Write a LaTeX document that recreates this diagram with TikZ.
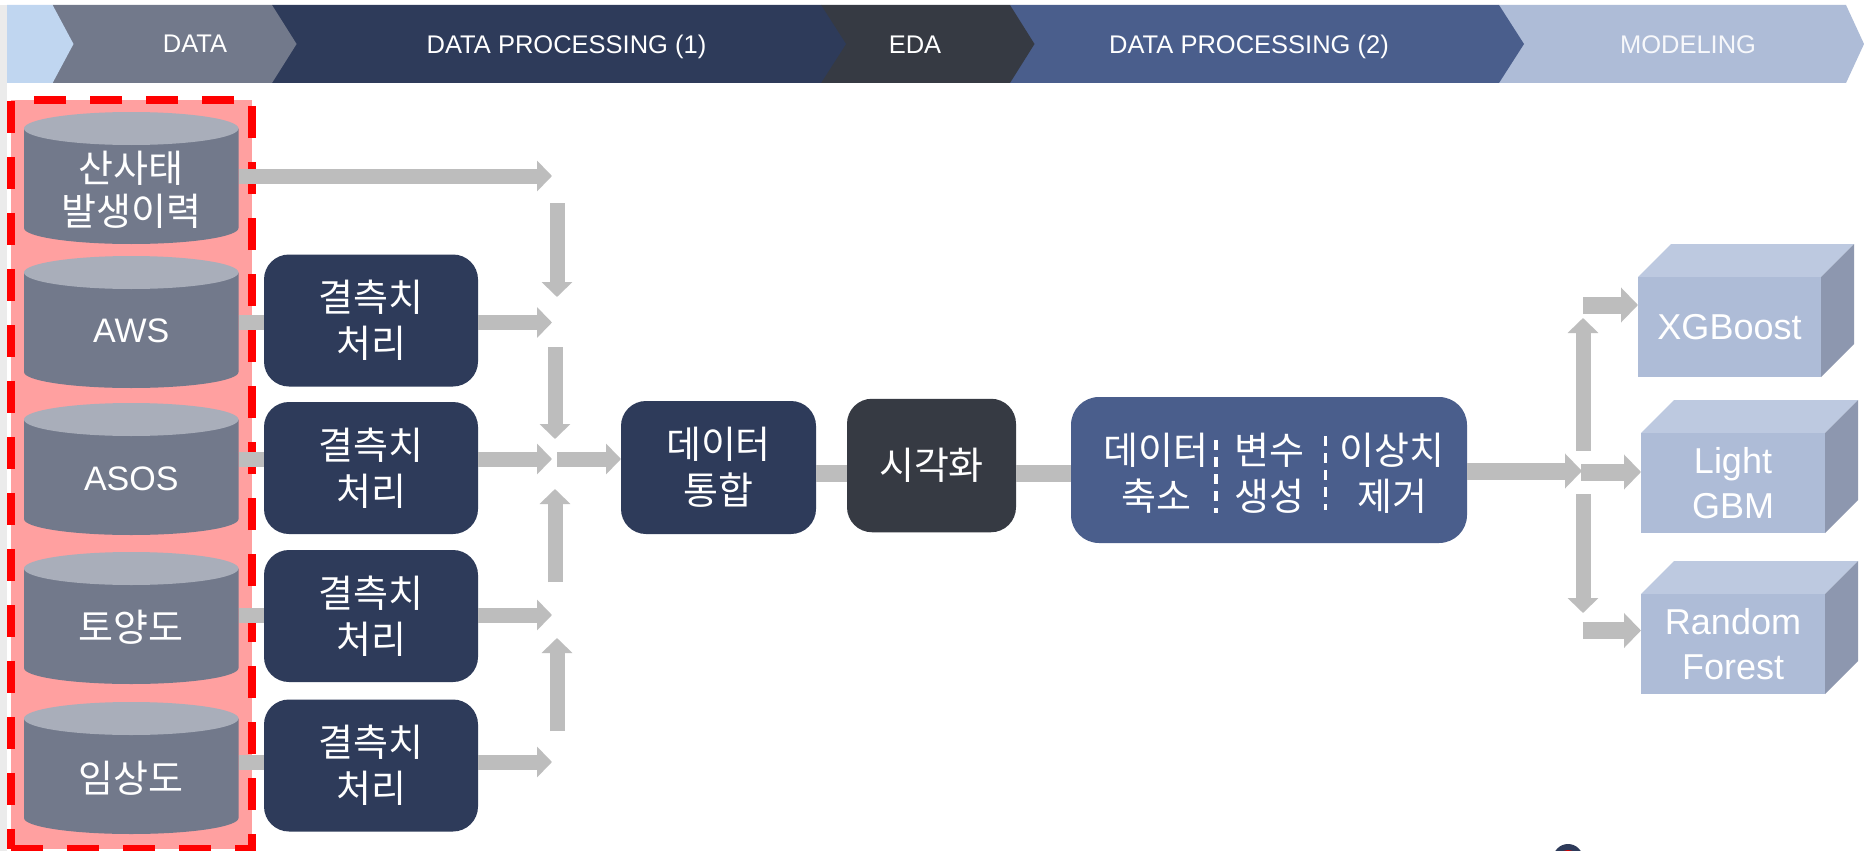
\documentclass[tikz,border=0pt]{standalone}
\usepackage{fontspec}
\setmainfont{Liberation Sans}
\newfontfamily\kr{Noto Sans CJK KR}
\usetikzlibrary{arrows.meta}
\definecolor{navy}{HTML}{2E3B5A}
\definecolor{slate}{HTML}{72798B}
\definecolor{slatetop}{HTML}{A9AEBA}
\definecolor{coal}{HTML}{363A43}
\definecolor{steel}{HTML}{4A5E8C}
\definecolor{pale}{HTML}{AEBCD7}
\definecolor{paletop}{HTML}{BDC9E0}
\definecolor{paleside}{HTML}{8D97AF}
\definecolor{sky}{HTML}{C0D6F0}
\definecolor{flowgray}{HTML}{BDBDBD}
\definecolor{pinkfill}{HTML}{FFA0A0}
\tikzset{
    banner/.style={text=white,text height=18pt,text depth=0pt,font=\fontsize{25.5}{30}\selectfont},
    drumbox/.style={inner sep=0pt,outer sep=0pt,minimum width=214.5pt,minimum height=132pt},
    drumlabel/.style={text=white,align=center,font=\fontsize{34}{44}\selectfont},
    krlabel/.style={text=white,align=center,font=\kr\fontsize{38}{44}\selectfont},
    krtext/.style={font=\kr\fontsize{38}{46}\selectfont},
    stepbox/.style={rounded corners=25pt,fill=navy,text=white,align=center,inner sep=0pt,outer sep=0pt,
        minimum width=214pt,minimum height=132pt,krtext},
    modelface/.style={fill=pale,text=white,align=center,inner sep=0pt,outer sep=0pt,
        minimum width=184pt,minimum height=100pt,font=\fontsize{36}{45}\selectfont},
    flow/.style={draw=flowgray,line width=15pt,-{Triangle[length=15pt,width=30pt,flowgray]}},
    flowb/.style={draw=flowgray,line width=17pt,-{Triangle[length=17pt,width=34pt,flowgray]}},
    stub/.style={draw=flowgray,line width=15pt},
    stubb/.style={draw=flowgray,line width=17pt},
    cutline/.style={white,line width=3.5pt,dash pattern=on 10pt off 7pt},
}
% name, top of the drum
\newcommand{\drumat}[2]{
    \fill[slate] (24,{#2+16.5})--(24,{#2+116}) arc[start angle=180,end angle=360,x radius=107.25pt,y radius=16pt]--(238.5,{#2+16.5})--cycle;
    \fill[slatetop] (131.25,{#2+16.5}) ellipse[x radius=107.25pt,y radius=16.5pt];
    \node[drumbox] (#1) at (131.25,{#2+66}) {};
}
\begin{document}
\begin{tikzpicture}[x=1pt,y=-1pt]
    \useasboundingbox (0,0) rectangle (1864,851);
    \fill[white] (0,0) rectangle (1864,851);
    \fill[black!8] (0,5) rectangle (7,851);
    % banner, right to left so that each tip lies on the next one
    \fill[pale] (1499,5)--(1846,5)--(1864,44)--(1846,83)--(1499,83)--cycle;
    \fill[steel] (1010,5)--(1499,5)--(1524,44)--(1499,83)--(1010,83)--cycle;
    \fill[coal] (821,5)--(1010,5)--(1034.5,44)--(1010,83)--(821,83)--cycle;
    \fill[navy] (272,5)--(821,5)--(846,44)--(821,83)--(272,83)--cycle;
    \fill[slate] (52.6,5)--(272,5)--(296.6,44)--(272,83)--(52.6,83)--cycle;
    \fill[sky] (7,5)--(52.6,5)--(73.5,44)--(52.6,83)--(7,83)--cycle;
    \node[banner] (bdata) at (195,44) {DATA};
    \node[banner] (bproc1) at (566.5,44.5) {DATA PROCESSING (1)};
    \node[banner] (beda) at (915,44.5) {EDA};
    \node[banner] (bproc2) at (1249,44.5) {DATA PROCESSING (2)};
    \node[banner,text=white!90!pale] (bmodel) at (1688,44.5) {MODELING};
    % data frame
    \fill[pinkfill] (11,100) rectangle (252,849);
    \draw[red,line width=8pt,dash pattern=on 32pt off 24pt] (11,849)--(252,849)--(252,100)--(11,100)--cycle;
    \drumat{hist}{112}
    \drumat{aws}{256}
    \drumat{asos}{403}
    \drumat{soil}{552}
    \drumat{forest}{702}
    \node[krlabel] (histtext) at (131.25,189.5) {산사태\\[-1pt]발생이력};
    \node[drumlabel] (awstext) at (131.25,331) {AWS};
    \node[drumlabel] (asostext) at (131.25,478.5) {ASOS};
    \node[krlabel] (soiltext) at (131.25,627.5) {토양도};
    \node[krlabel] (foresttext) at (131.25,778) {임상도};
    \node[stepbox] (fill1) at (371,320.5) {결측치\\처리};
    \node[stepbox] (fill2) at (371,468) {결측치\\처리};
    \node[stepbox] (fill3) at (371,616) {결측치\\처리};
    \node[stepbox] (fill4) at (371,765.5) {결측치\\처리};
    % free ends of the arrows
    \coordinate (in0) at (552,176);
    \coordinate (in1) at (552,322.5);
    \coordinate (in2) at (552,459);
    \coordinate (in3) at (552,615);
    \coordinate (in4) at (552,762);
    \draw[flow] (hist.east |- in0)--(in0);
    \draw[stub] (aws.east |- in1)--(fill1.west |- in1);
    \draw[stub] (asos.east |- in2)--(fill2.west |- in2);
    \draw[stub] (soil.east |- in3)--(fill3.west |- in3);
    \draw[stub] (forest.east |- in4)--(fill4.west |- in4);
    \draw[flow] (fill1.east |- in1)--(in1);
    \draw[flow] (fill2.east |- in2)--(in2);
    \draw[flow] (fill3.east |- in3)--(in3);
    \draw[flow] (fill4.east |- in4)--(in4);
    \draw[flow] (557,203)--(557,297);
    \draw[flow] (555,347)--(555,439);
    \draw[flow] (555,582)--(555,489);
    \draw[flow] (557,731)--(557,638);
    % merge, view, reduce
    \node[stepbox,minimum width=195pt,minimum height=133pt] (merge) at (718.5,467.5) {데이터\\통합};
    \node[stepbox,fill=coal,minimum width=169pt,minimum height=133.5pt] (view) at (931.5,465.5) {\raisebox{-2pt}{시각화}};
    \node[stepbox,fill=steel,rounded corners=28pt,minimum width=396pt,minimum height=146pt] (reduce) at (1269,470) {};
    \node[krtext,text=white,align=center] (cut) at (1156,473.5) {데이터\\축소};
    \node[krtext,text=white,align=center] (make) at (1269,473.5) {변수\\생성};
    \node[krtext,text=white,align=center] (drop) at (1392,473.5) {이상치\\제거};
    \coordinate (mid) at (800,473.5);
    \coordinate (out) at (1582,471);
    \draw[flow] (557,459)--(merge.west |- in2);
    \draw[stubb] (merge.east |- mid)--(view.west |- mid);
    \draw[stubb] (view.east |- mid)--(reduce.west |- mid);
    \draw[flowb] (reduce.east |- out)--(out);
    \draw[cutline] (1216,440)--(1216,513);
    \draw[cutline] (1325.6,436)--(1325.6,510);
    % models
    \fill[paletop] (1638,277)--(1671,244)--(1854,244)--(1821,277)--cycle;
    \fill[paleside] (1821,277)--(1854,244)--(1854,344)--(1821,377)--cycle;
    \node[modelface,minimum width=183pt] (xgb) at (1729.5,327) {XGBoost};
    \fill[paletop] (1641,433)--(1674,400)--(1858,400)--(1825,433)--cycle;
    \fill[paleside] (1825,433)--(1858,400)--(1858,500)--(1825,533)--cycle;
    \node[modelface] (lgbm) at (1733,483) {Light\\GBM};
    \fill[paletop] (1641,594)--(1674,561)--(1858,561)--(1825,594)--cycle;
    \fill[paleside] (1825,594)--(1858,561)--(1858,661)--(1825,694)--cycle;
    \node[modelface] (rf) at (1733,644) {Random\\Forest};
    \draw[flow] (1583,450.5)--(1583,318);
    \draw[flow] (1583,494)--(1583,613);
    \draw[flowb] (1583,305)--(xgb.west |- 0,305);
    \draw[flowb] (1581,472)--(lgbm.west |- 0,472);
    \draw[flowb] (1583,630.5)--(rf.west |- 0,630.5);
    % logo, cut by the lower edge
    \begin{scope}
    \clip (1540,840) rectangle (1600,851);
    \fill[navy] (1568,859) circle (15pt);
    \fill[red!85!black] (1568,861) circle (11pt);
    \end{scope}
\end{tikzpicture}
\end{document}
